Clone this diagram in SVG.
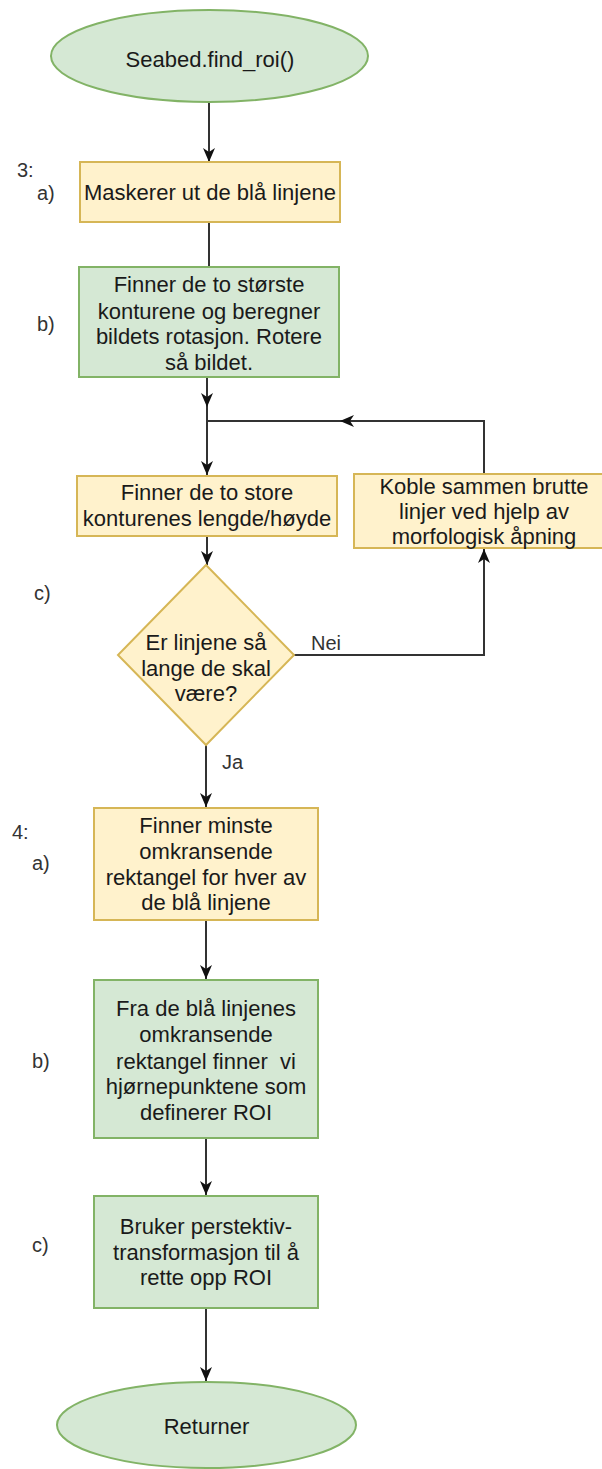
<svg xmlns="http://www.w3.org/2000/svg" width="602" height="1469" viewBox="0 0 602 1469">
<style>
.y{fill:#fff2cc;stroke:#d6b656;stroke-width:2}
.g{fill:#d5e8d4;stroke:#82b366;stroke-width:2}
.t{font-family:"Liberation Sans",Arial,sans-serif;font-size:22px;fill:#1a1a1a;text-anchor:middle}
.l{font-family:"Liberation Sans",Arial,sans-serif;font-size:20px;fill:#333}
.e{fill:none;stroke:#333;stroke-width:2}
.p{white-space:pre}
</style>
<defs>
<marker id="a" viewBox="0 0 14 12" refX="14" refY="6" markerWidth="14" markerHeight="12" markerUnits="userSpaceOnUse" orient="auto">
<path d="M0,0 L14,6 L0,12 L4,6 Z" fill="#111"/>
</marker>
</defs>
<rect width="602" height="1469" fill="#fff"/>
<g id="connectors">
<path class="e" d="M209,102 V162" marker-end="url(#a)"/>
<path class="e" d="M209,222 V267"/>
<path class="e" d="M207,377 V407" marker-end="url(#a)"/>
<path class="e" d="M207,407 V475" marker-end="url(#a)"/>
<path class="e" d="M207,421 H340"/>
<path class="e" d="M484,473 V421 H340" marker-end="url(#a)"/>
<path class="e" d="M207,536 V565" marker-end="url(#a)"/>
<path class="e" d="M294,655 H484 V549" marker-end="url(#a)"/>
<path class="e" d="M206,745 V807" marker-end="url(#a)"/>
<path class="e" d="M206,920 V979" marker-end="url(#a)"/>
<path class="e" d="M206,1138 V1195" marker-end="url(#a)"/>
<path class="e" d="M206,1308 V1381" marker-end="url(#a)"/>
<text class="l" x="311" y="650">Nei</text>
<text class="l" x="222" y="769">Ja</text>
</g>
<g id="start">
<ellipse class="g" cx="209.5" cy="56" rx="158.5" ry="46"/>
<text class="t" x="210" y="67">Seabed.find_roi()</text>
</g>
<g id="step3a">
<rect class="y" x="80" y="162" width="260" height="60"/>
<text class="t" x="210" y="200">Maskerer ut de blå linjene</text>
</g>
<g id="step3b">
<rect class="g" x="79" y="267" width="260" height="110"/>
<text class="t" x="209"><tspan x="209" y="292">Finner de to største</tspan><tspan x="209" y="319">konturene og beregner</tspan><tspan x="209" y="344">bildets rotasjon. Rotere</tspan><tspan x="209" y="370">så bildet.</tspan></text>
</g>
<g id="measure">
<rect class="y" x="77" y="476" width="260" height="60"/>
<text class="t"><tspan x="207" y="500">Finner de to store</tspan><tspan x="207" y="526">konturenes lengde/høyde</tspan></text>
</g>
<g id="morph">
<rect class="y" x="354" y="474" width="260" height="74"/>
<text class="t"><tspan x="484" y="494">Koble sammen brutte</tspan><tspan x="484" y="519">linjer ved hjelp av</tspan><tspan x="484" y="544">morfologisk åpning</tspan></text>
</g>
<g id="decision">
<path class="y" d="M206,565 L294,655 L206,745 L118,655 Z"/>
<text class="t"><tspan x="206" y="650">Er linjene så</tspan><tspan x="206" y="676">lange de skal</tspan><tspan x="206" y="701">være?</tspan></text>
</g>
<g id="step4a">
<rect class="y" x="94" y="808" width="224" height="112"/>
<text class="t"><tspan x="206" y="833">Finner minste</tspan><tspan x="206" y="859">omkransende</tspan><tspan x="206" y="885">rektangel for hver av</tspan><tspan x="206" y="910">de blå linjene</tspan></text>
</g>
<g id="step4b">
<rect class="g" x="94" y="980" width="224" height="158"/>
<text class="t"><tspan x="206" y="1016">Fra de blå linjenes</tspan><tspan x="206" y="1042">omkransende</tspan><tspan class="p" x="206" y="1069">rektangel finner  vi</tspan><tspan x="206" y="1094">hjørnepunktene som</tspan><tspan x="206" y="1120">definerer ROI</tspan></text>
</g>
<g id="step4c">
<rect class="g" x="94" y="1196" width="224" height="112"/>
<text class="t"><tspan x="206" y="1234">Bruker perstektiv-</tspan><tspan x="206" y="1260">transformasjon til å</tspan><tspan x="206" y="1285">rette opp ROI</tspan></text>
</g>
<g id="end">
<ellipse class="g" cx="206.5" cy="1425" rx="149.5" ry="43"/>
<text class="t" x="206.5" y="1434">Returner</text>
</g>
<g id="labels">
<text class="l" x="17" y="177">3:</text>
<text class="l" x="37" y="200">a)</text>
<text class="l" x="37" y="331">b)</text>
<text class="l" x="34" y="600">c)</text>
<text class="l" x="12" y="839">4:</text>
<text class="l" x="32" y="870">a)</text>
<text class="l" x="32" y="1068">b)</text>
<text class="l" x="32" y="1252">c)</text>
</g>
</svg>
